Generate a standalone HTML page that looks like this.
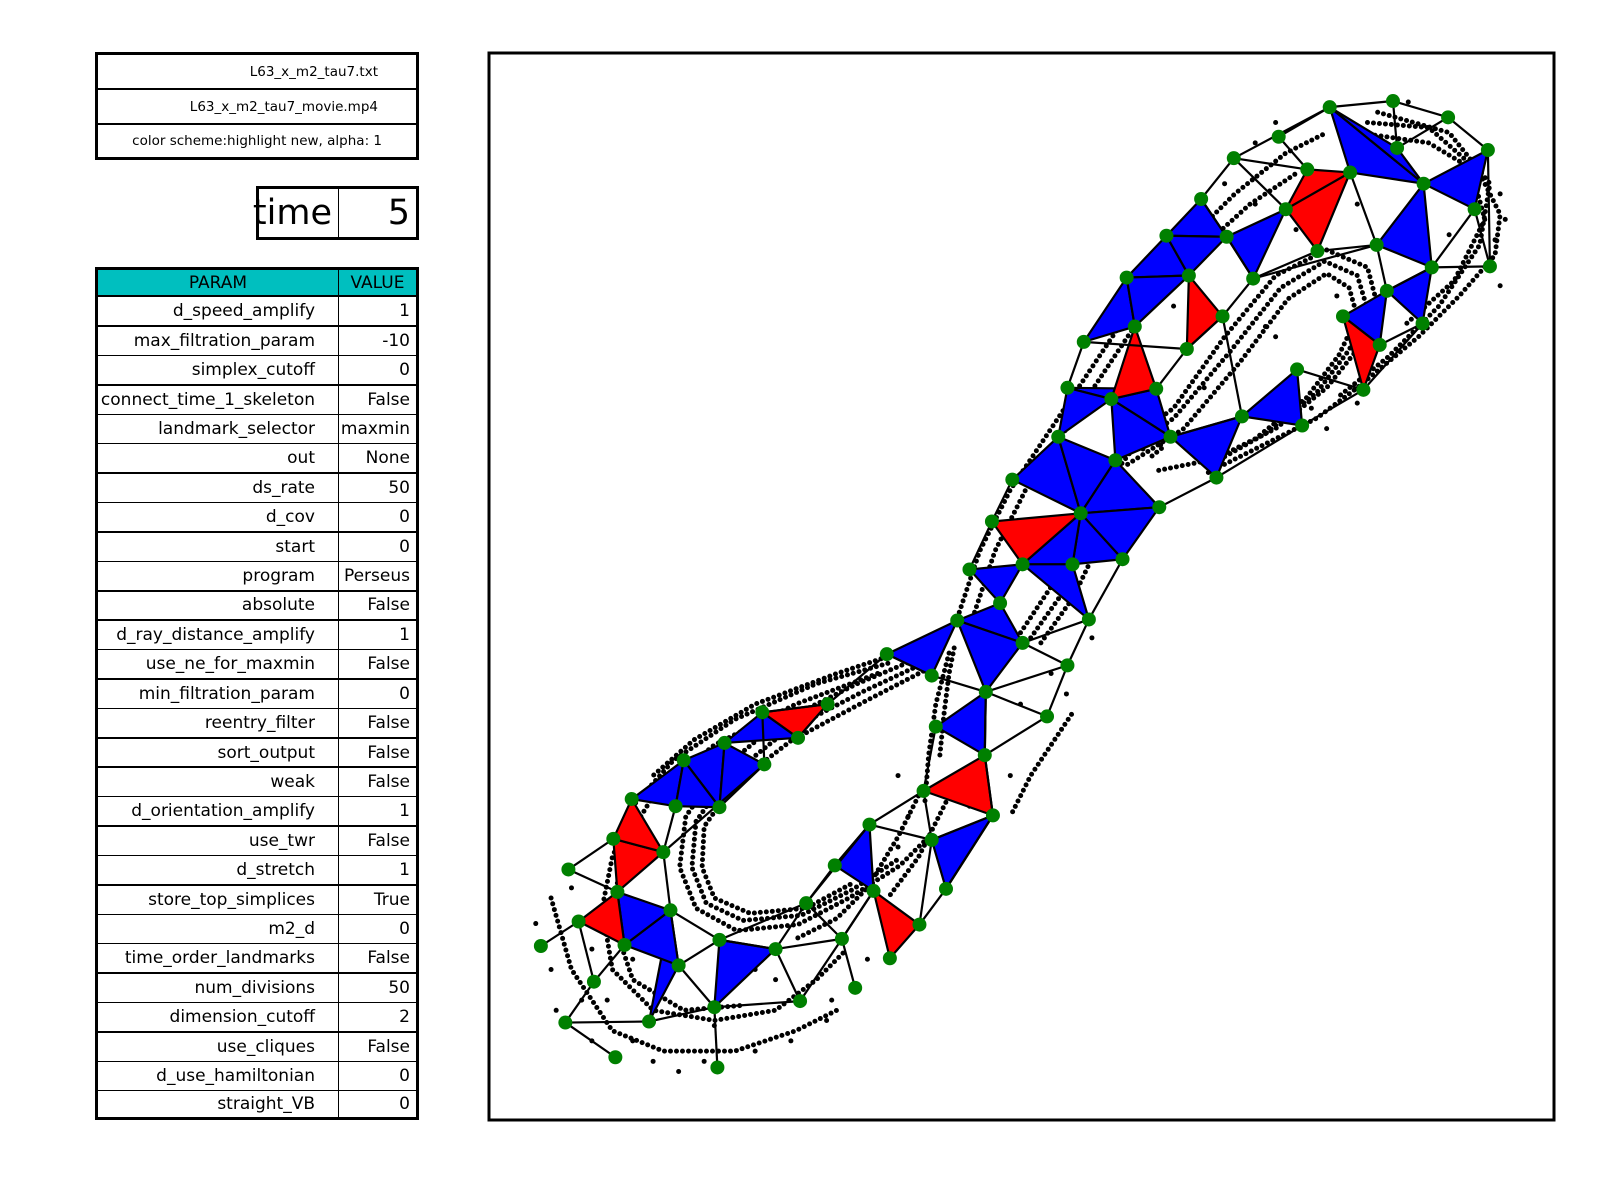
<!DOCTYPE html>
<html><head><meta charset="utf-8"><style>
body{margin:0;width:1600px;height:1200px;background:#fff;position:relative;overflow:hidden;font-family:"DejaVu Sans","Liberation Sans",sans-serif;}
.cell{position:absolute;box-sizing:border-box;border:1.5px solid #000;display:flex;align-items:center;justify-content:flex-end;padding-right:6px;white-space:nowrap;color:#000;}
</style></head><body>
<div id="info">
 <div class="cell" style="left:95px;top:52px;width:324px;height:37px;font-size:13.5px;padding-right:38px;border-width:3px 3px 1.5px 3px">L63_x_m2_tau7.txt</div>
 <div class="cell" style="left:95px;top:89px;width:324px;height:35px;font-size:13.5px;padding-right:38px;border-width:1.5px 3px">L63_x_m2_tau7_movie.mp4</div>
 <div class="cell" style="left:95px;top:124px;width:324px;height:36px;font-size:13.5px;padding-right:34px;border-width:1.5px 3px 3px 3px">color scheme:highlight new, alpha: 1</div>
</div>
<div class="cell" style="left:256px;top:186px;width:83px;height:54px;font-size:35px;padding-right:6px;border-width:3px 1.5px 3px 3px">time</div>
<div class="cell" style="left:338px;top:186px;width:81px;height:54px;font-size:35px;padding-right:6px;border-width:3px 3px 3px 1.5px">5</div>
<div id="params"></div>
<svg id="plot" width="1600" height="1200" style="position:absolute;left:0;top:0"></svg>
<script>
const paramNames=["d_speed_amplify","max_filtration_param","simplex_cutoff","connect_time_1_skeleton","landmark_selector","out","ds_rate","d_cov","start","program","absolute","d_ray_distance_amplify","use_ne_for_maxmin","min_filtration_param","reentry_filter","sort_output","weak","d_orientation_amplify","use_twr","d_stretch","store_top_simplices","m2_d","time_order_landmarks","num_divisions","dimension_cutoff","use_cliques","d_use_hamiltonian","straight_VB"];
const paramValues=["1","-10","0","False","maxmin","None","50","0","0","Perseus","False","1","False","0","False","False","False","1","False","1","True","0","False","50","2","False","0","0"];
const landmarks=[[1303,105],[1365,99],[1419,115],[1458,147],[1445,205],[1460,261],[1395,180],[1369,145],[1323,169],[1281,166],[1253,134],[1209,155],[1177,195],[1143,231],[1202,232],[1260,205],[1291,246],[1349,240],[1228,273],[1165,270],[1104,272],[1062,335],[1112,320],[1163,342],[1198,310],[1403,262],[1359,285],[1394,317],[1316,310],[1352,338],[1336,382],[1271,362],[1276,417],[1217,408],[1192,468],[1147,428],[1133,381],[1089,391],[1046,380],[1037,428],[1093,451],[992,470],[1136,497],[1059,503],[972,511],[1002,553],[1051,553],[1100,548],[950,558],[980,591],[938,608],[1002,630],[1067,607],[1046,652],[869,641],[913,662],[966,678],[1026,702],[917,712],[965,740],[905,775],[973,799],[913,823],[927,871],[852,808],[818,848],[856,873],[901,906],[872,939],[790,885],[825,920],[838,968],[760,930],[784,981],[705,921],[700,987],[703,1046],[665,946],[636,1001],[657,892],[612,926],[567,903],[605,874],[650,835],[601,822],[619,783],[670,745],[710,728],[749,749],[705,791],[662,790],[747,698],[782,723],[811,690],[557,852],[530,927],[582,962],[554,1002],[603,1036]];
const blueTris=[[0,6,8],[0,7,6],[6,3,4],[6,17,25],[26,25,27],[28,26,29],[31,32,33],[33,35,34],[12,13,14],[13,20,19],[13,19,14],[14,15,18],[20,21,22],[20,22,19],[38,37,36],[38,39,37],[37,35,36],[39,41,43],[39,40,43],[40,42,43],[37,40,35],[43,42,47],[43,46,47],[45,43,46],[45,46,52],[48,49,45],[49,51,50],[50,51,56],[54,50,55],[56,58,59],[62,61,63],[64,65,66],[74,75,72],[77,79,78],[80,79,77],[82,79,80],[85,86,90],[86,87,89],[86,89,90],[87,88,89],[91,92,87]];
const redTris=[[15,8,16],[9,8,15],[28,29,30],[19,23,24],[22,36,37],[44,43,45],[60,61,59],[66,67,68],[81,82,80],[84,83,82],[85,84,83],[91,93,92]];
const extraEdges=[[0,1],[1,2],[2,3],[2,7],[1,7],[0,10],[0,11],[11,12],[10,9],[11,9],[11,15],[12,14],[3,5],[4,5],[4,25],[5,25],[17,16],[16,18],[14,18],[18,17],[8,17],[25,26],[27,29],[17,26],[24,18],[23,24],[21,23],[31,30],[30,27],[32,30],[33,24],[34,32],[35,33],[34,42],[38,21],[36,23],[41,44],[44,48],[47,52],[52,53],[53,57],[52,51],[51,53],[53,56],[56,57],[57,59],[55,56],[54,55],[58,60],[59,61],[60,62],[61,62],[62,64],[60,64],[64,69],[65,69],[66,70],[69,70],[70,72],[70,71],[70,66],[72,73],[73,75],[74,72],[72,69],[75,76],[75,78],[74,77],[74,79],[79,83],[78,97],[97,98],[96,97],[95,81],[81,96],[80,96],[94,84],[94,82],[83,88],[88,91],[91,93],[93,92],[54,93],[67,62],[65,64],[69,74],[77,75],[90,83],[73,70],[61,63],[56,59],[63,67]];
const dotTrails=[
[[900,645],[840,670],[760,710],[700,760],[672,800],[666,850],[682,890],[722,912],[782,906],[832,880],[882,848],[912,818]],
[[905,650],[845,678],[768,718],[710,765],[682,805],[678,850],[692,885],[728,902],[785,897],[835,872],[880,842]],
[[910,655],[850,686],[775,726],[718,770],[690,810],[688,850],[700,880],[735,895],[790,890],[838,864]],
[[930,640],[917,690],[910,740],[906,790]],
[[935,635],[930,660],[925,700],[921,740]],
[[1095,440],[1150,400],[1200,330],[1250,270],[1300,245],[1340,262],[1350,300],[1332,340],[1300,380],[1250,420],[1190,450],[1130,462]],
[[1095,448],[1150,410],[1205,345],[1255,282],[1298,256],[1330,270],[1340,303],[1322,343],[1290,385],[1240,425],[1185,456]],
[[1105,455],[1160,420],[1215,355],[1262,293],[1300,268],[1322,282],[1330,310],[1312,348],[1280,390],[1230,430]],
[[1120,440],[1130,430],[1140,438],[1125,450]],
[[1000,620],[1030,575],[1050,530],[1080,480],[1110,440]],
[[1010,625],[1042,580],[1068,525],[1100,470]],
[[1020,630],[1052,585],[1078,530],[1110,480]],
[[940,600],[960,540],[990,480],[1030,420],[1070,360],[1110,300],[1160,240],[1210,190],[1260,150],[1300,130]],
[[955,600],[975,540],[1005,480],[1045,420],[1085,360],[1125,300],[1175,245],[1225,200],[1270,170]],
[[1330,130],[1400,140],[1450,170],[1470,210],[1465,250],[1430,290],[1390,330],[1330,380],[1290,410],[1230,440],[1180,465]],
[[1350,110],[1420,130],[1460,180],[1450,240],[1410,300],[1360,350],[1310,390]],
[[1340,120],[1400,125],[1440,160],[1455,215],[1425,275],[1375,320]],
[[870,650],[800,670],[720,705],[660,745],[620,790],[600,840],[590,890],[600,950],[640,990],[700,1000],[760,990],[800,960],[830,930]],
[[860,660],[780,690],[700,730],[640,780],[610,830],[600,900],[620,960],[670,990],[730,985]],
[[880,640],[820,660],[740,690],[680,725],[640,760]],
[[540,880],[560,950],[600,1010],[650,1030],[720,1030],[780,1010],[820,990]],
[[900,780],[880,820],[850,870],[820,900],[780,920]],
[[940,760],[920,800],[900,840],[870,880]],
[[1050,700],[1010,760],[990,800]]
];
const scatterPts=[[1470,190],[1475,215],[1465,235],[1380,100],[1250,120],[1230,140],[1470,280],[1300,420],[1285,400],[1330,395],[1055,395],[1028,470],[1060,470],[1070,625],[1045,680],[1000,690],[990,760],[880,760],[890,800],[940,840],[850,940],[815,980],[775,1020],[740,1030],[640,1040],[665,1050],[560,870],[540,950],[525,905],[570,980],[580,1020],[620,1020],[700,1005],[690,1040],[1120,360],[1180,380],[1240,320],[1250,330],[1150,300],[1310,290],[1200,180],[1230,200],[1270,225],[1330,200],[1420,230],[1380,210],[1100,420],[1020,480],[990,530],[960,620],[1030,660],[950,790],[880,830],[760,960],[740,950],[620,940],[580,930],[545,990],[595,980],[810,1000]];
const S=1.0205;
const NS="http://www.w3.org/2000/svg";
const pt=document.getElementById('params');
const top0=267,rh=29.41;
function mk(txt,l,t,w,h,bg,bw,center,pr){const d=document.createElement('div');d.className='cell';d.textContent=txt;d.style.cssText=`left:${l}px;top:${t}px;width:${w}px;height:${h}px;font-size:17px;background:${bg};border-width:${bw};padding-right:${pr}px;`+(center?'justify-content:center;padding-right:0':'');pt.appendChild(d);return d;}
let h1=mk('PARAM',95,top0,244,rh,'#00bfbf','3px 1.5px 1.5px 3px',true,0);


let h2=mk('VALUE',338,top0,81,rh,'#00bfbf','3px 3px 1.5px 1.5px',true,0);


paramNames.forEach((n,i)=>{const t=top0+rh*(i+1);const last=i===paramNames.length-1;
 const a=mk(n,95,t,244,rh+0.5,'#fff',`1.5px 1.5px ${last?3:1.5}px 3px`,false,23);
 
 
 const b=mk(paramValues[i],338,t,81,rh+0.5,'#fff',`1.5px 3px ${last?3:1.5}px 1.5px`,false,6);
 
 });
const svg=document.getElementById('plot');
function el(tag,attrs){const e=document.createElementNS(NS,tag);for(const k in attrs)e.setAttribute(k,attrs[k]);svg.appendChild(e);return e;}
const X=v=>v*S, Y=v=>v*S;
const frame=el('rect',{x:489,y:53,width:1065,height:1067,fill:'none',stroke:'#000','stroke-width':3});


dotTrails.forEach(tr=>{const p=el('polyline',{points:tr.map(q=>X(q[0])+','+Y(q[1])).join(' '),fill:'none',stroke:'#000','stroke-width':5,'stroke-linecap':'round','stroke-dasharray':'0 6'});
 
 });
scatterPts.forEach(q=>{const c=el('circle',{cx:X(q[0]),cy:Y(q[1]),r:2.5,fill:'#000'});
 
 });
function tri(t,col){const p=el('polygon',{points:t.map(i=>X(landmarks[i][0])+','+Y(landmarks[i][1])).join(' '),fill:col,stroke:'#000','stroke-width':2.2,'stroke-linejoin':'round'});
 
 }
blueTris.forEach(t=>tri(t,'#0000ff'));
redTris.forEach(t=>tri(t,'#ff0000'));
extraEdges.forEach(e=>{const a=landmarks[e[0]],b=landmarks[e[1]];const l=el('line',{x1:X(a[0]),y1:Y(a[1]),x2:X(b[0]),y2:Y(b[1]),stroke:'#000','stroke-width':2.2});
 
 });
landmarks.forEach(q=>{const c=el('circle',{cx:X(q[0]),cy:Y(q[1]),r:7,fill:'#008000'});
 
 });
</script>
</body></html>
